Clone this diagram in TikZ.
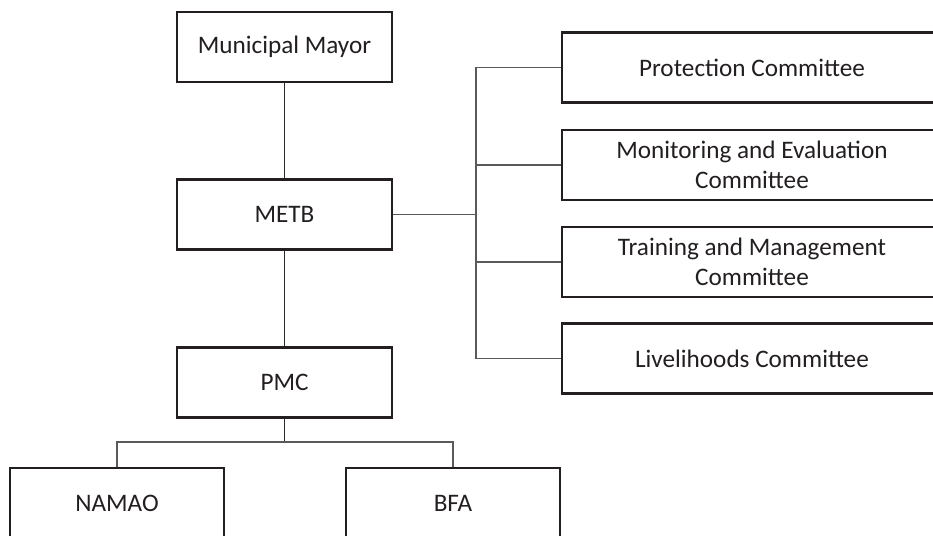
\documentclass[tikz,border=0pt]{standalone}
\usepackage{fontspec}
\setmainfont{Carlito}
\definecolor{boxline}{HTML}{231F20}
\definecolor{connA}{HTML}{2A2A2A}
\definecolor{connB}{HTML}{5A5A5A}
\begin{document}
\begin{tikzpicture}[x=1pt,y=-1pt,
  orgbox/.style={draw=boxline, line width=2.3pt, fill=white, text=boxline,
    minimum width=#1, minimum height=70pt, inner sep=0pt, align=center,
    font=\fontsize{25.2pt}{29.5pt}\selectfont},
  orgbox/.default=215pt,
  connd/.style={draw=connA, line width=1.1pt},
  connl/.style={draw=connB, line width=1.3pt}]
\useasboundingbox (0,0) rectangle (933,535);
\clip (0,0) rectangle (933,535);
% left column
\node[orgbox] (mayor) at (284.5,47) {Municipal Mayor};
\node[orgbox] (metb) at (284.5,214.5) {METB};
\node[orgbox] (pmc) at (284.5,382.5) {PMC};
% bottom row
\node[orgbox=214pt] (namao) at (117,503) {NAMAO};
\node[orgbox=214pt] (bfa) at (453,503) {BFA};
% right column
\node[orgbox=380pt] (prot) at (752,67.5) {Protection Committee};
\node[orgbox=380pt] (mande) at (752,165) {Monitoring and Evaluation\\Committee};
\node[orgbox=380pt] (train) at (752,262) {Training and Management\\Committee};
\node[orgbox=380pt] (live) at (752,358.5) {Livelihoods Committee};
% helper coordinates
\coordinate (sx) at (476,0);
\coordinate (by) at (0,442);
% connectors
\draw[connd] (mayor.south) -- (metb.north);
\draw[connd] (metb.south) -- (pmc.north);
\draw[connl] (metb.east) -- (metb.east -| sx);
\draw[connl] (prot.west) -- (prot.west -| sx) -- (live.west -| sx) -- (live.west);
\draw[connl] (mande.west) -- (mande.west -| sx);
\draw[connl] (train.west) -- (train.west -| sx);
\draw[connd] (pmc.south) -- (pmc.south |- by);
\draw[connl] (namao.north) -- (namao.north |- by) -- (bfa.north |- by) -- (bfa.north);
\end{tikzpicture}
\end{document}
